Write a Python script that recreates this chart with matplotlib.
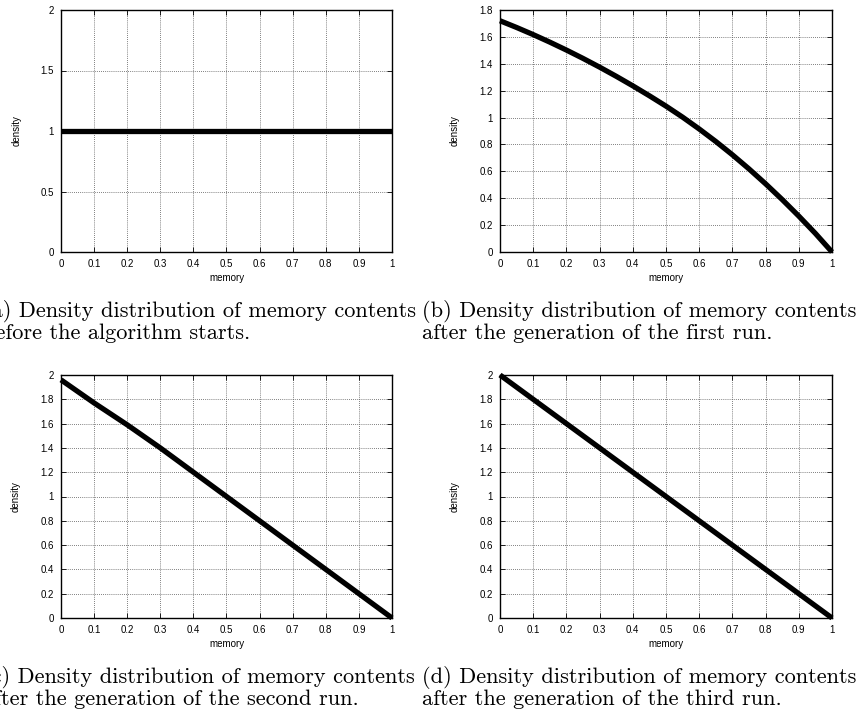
import matplotlib
matplotlib.use("Agg")
import matplotlib.pyplot as plt
from matplotlib.ticker import FormatStrFormatter

# values
x = [0, 0.1, 0.2, 0.3, 0.4, 0.5, 0.6, 0.7, 0.8, 0.9, 1.0]
x_b = [0, 0.05, 0.1, 0.15, 0.2, 0.25, 0.3, 0.35, 0.4, 0.45, 0.5,
       0.55, 0.6, 0.65, 0.7, 0.75, 0.8, 0.85, 0.9, 0.95, 1.0]
dens_a = [1, 1, 1, 1, 1, 1, 1, 1, 1, 1, 1]
dens_b = [1.72, 1.67, 1.617, 1.561, 1.502, 1.44, 1.375, 1.307, 1.236, 1.162, 1.085,
          1.003, 0.915, 0.822, 0.723, 0.618, 0.507, 0.39, 0.267, 0.138, 0.0]
dens_c = [1.96, 1.77, 1.59, 1.40, 1.20, 1.0, 0.80, 0.60, 0.40, 0.20, 0.0]
dens_d = [2.0, 1.8, 1.6, 1.4, 1.2, 1.0, 0.8, 0.6, 0.4, 0.2, 0.0]

xticks = [0, 0.1, 0.2, 0.3, 0.4, 0.5, 0.6, 0.7, 0.8, 0.9, 1]
yticks_a = [0, 0.5, 1, 1.5, 2]
yticks_b = [0, 0.2, 0.4, 0.6, 0.8, 1, 1.2, 1.4, 1.6, 1.8]
yticks_cd = [0, 0.2, 0.4, 0.6, 0.8, 1, 1.2, 1.4, 1.6, 1.8, 2]

captions = [
    ("(a) Density distribution of memory contents", "before the algorithm starts."),
    ("(b) Density distribution of memory contents", "after the generation of the first run."),
    ("(c) Density distribution of memory contents", "after the generation of the second run."),
    ("(d) Density distribution of memory contents", "after the generation of the third run."),
]

W, H = 858, 715
fig = plt.figure(figsize=(W / 100, H / 100), dpi=100)

# axes boxes in pixels: left, top, right, bottom
boxes = [(61, 10, 392, 252), (500, 10, 832, 252),
         (61, 375, 392, 618), (500, 375, 832, 618)]
xs = [x, x_b, x, x]
series = [dens_a, dens_b, dens_c, dens_d]
yts = [yticks_a, yticks_b, yticks_cd, yticks_cd]
cap_x = [-17, 422, -17, 422]
cap_y = [317, 317, 683, 683]

for i in range(4):
    l, t, r, b = boxes[i]
    ax = fig.add_axes([l / W, 1 - b / H, (r - l) / W, (b - t) / H])
    ax.plot(xs[i], series[i], color="black", lw=3.8, clip_on=False, zorder=5,
            solid_capstyle="butt", solid_joinstyle="round")
    ax.set_xlim(0, 1)
    ax.set_ylim(0, yts[i][-1])
    ax.set_xticks(xticks)
    ax.set_yticks(yts[i])
    ax.xaxis.set_major_formatter(FormatStrFormatter("%g"))
    ax.yaxis.set_major_formatter(FormatStrFormatter("%g"))
    ax.grid(True, color="#555555", ls=(0, (1, 1.5)), lw=0.6)
    ax.tick_params(direction="in", top=True, right=True, length=3.5, width=0.6,
                   labelsize=7, pad=5)
    for s in ax.spines.values():
        s.set_linewidth(1.0)
    ax.set_xlabel("memory", fontsize=7, labelpad=3)
    ax.set_ylabel("density", fontsize=7, labelpad=14)
    for lab in ax.get_xticklabels() + ax.get_yticklabels():
        lab.set_family("Liberation Sans")
    ax.xaxis.label.set_family("Liberation Sans")
    ax.yaxis.label.set_family("Liberation Sans")

    line1, line2 = captions[i]
    fig.text(cap_x[i] / W, 1 - cap_y[i] / H, line1, family="cmr10",
             fontsize=16.1, ha="left", va="baseline")
    fig.text(cap_x[i] / W, 1 - (cap_y[i] + 22) / H, line2, family="cmr10",
             fontsize=16.1, ha="left", va="baseline")

fig.savefig("out.png", dpi=100)
